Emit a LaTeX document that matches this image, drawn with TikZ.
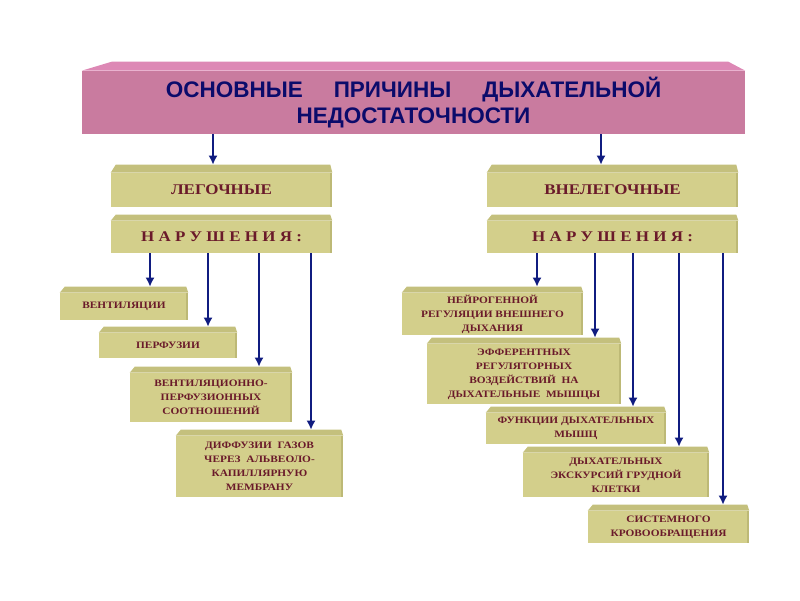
\documentclass[tikz,border=0pt]{standalone}
\usepackage{fontspec}
\usepackage{xcolor}
\usepackage{tikz}
\usetikzlibrary{shapes,arrows.meta,positioning}
\setmainfont{Liberation Serif}
\newfontfamily\headfont{Liberation Sans}
\newfontfamily\slabfont[FakeStretch=1.15]{Liberation Serif}
\definecolor{pinkface}{HTML}{C97B9F}
\definecolor{pinktop}{HTML}{DD88B5}
\definecolor{oliveface}{HTML}{D3CF8B}
\definecolor{olivetop}{HTML}{C4C07D}
\definecolor{oliveedge}{HTML}{BDB976}
\definecolor{navytext}{HTML}{0B0B6B}
\definecolor{maroontext}{HTML}{6A1A2A}
\definecolor{arrowblue}{HTML}{101C80}

\begin{document}
\begin{tikzpicture}[
    x=0.025cm, y=-0.025cm,
    titlebox/.style={rectangle, fill=pinkface, inner sep=0pt, align=center, text=navytext, font=\headfont\bfseries\fontsize{16}{18.5}\selectfont},
    headbox/.style={rectangle, fill=oliveface, inner sep=0pt, align=center, text=maroontext, font=\slabfont\bfseries\fontsize{10.5}{12}\selectfont},
    slabbox/.style={rectangle, fill=oliveface, inner sep=0pt, align=center, text=maroontext, font=\slabfont\bfseries\fontsize{7}{9.9}\selectfont},
    arr/.style={draw=arrowblue, line width=1.9pt, -{Latex[length=6.5pt,width=6.5pt]}}
]
\useasboundingbox (0,0) rectangle (800,600);

\node (title) [titlebox, minimum width=16.575cm, minimum height=1.575cm] at (413.5,102.5) {ОСНОВНЫЕ\hspace{1.1em} ПРИЧИНЫ\hspace{1.1em} ДЫХАТЕЛЬНОЙ\\НЕДОСТАТОЧНОСТИ};

\node (lung) [headbox, minimum width=5.525cm, minimum height=0.85cm] at (221.5,190) {ЛЕГОЧНЫЕ};
\node (lnar) [headbox, minimum width=5.525cm, minimum height=0.8cm] at (221.5,237) {Н А Р У Ш Е Н И Я :};
\node (extra) [headbox, minimum width=6.275cm, minimum height=0.85cm] at (612.5,190) {ВНЕЛЕГОЧНЫЕ};
\node (enar) [headbox, minimum width=6.275cm, minimum height=0.8cm] at (612.5,237) {Н А Р У Ш Е Н И Я :};

\node (vent) [slabbox, minimum width=3.2cm, minimum height=0.675cm] at (124,306.5) {ВЕНТИЛЯЦИИ};
\node (perf) [slabbox, minimum width=3.45cm, minimum height=0.625cm] at (168,345.5) {ПЕРФУЗИИ};
\node (vperf) [slabbox, minimum width=4.05cm, minimum height=1.225cm] at (211,397.5) {ВЕНТИЛЯЦИОННО-\\ПЕРФУЗИОННЫХ\\СООТНОШЕНИЙ};
\node (diff) [slabbox, minimum width=4.175cm, minimum height=1.525cm] at (259.5,466.5) {ДИФФУЗИИ\ \ ГАЗОВ\\ЧЕРЕЗ\ \ АЛЬВЕОЛО-\\КАПИЛЛЯРНУЮ\\МЕМБРАНУ};

\node (neuro) [slabbox, minimum width=4.525cm, minimum height=1.05cm] at (492.5,314) {НЕЙРОГЕННОЙ\\РЕГУЛЯЦИИ ВНЕШНЕГО\\ДЫХАНИЯ};
\node (eff) [slabbox, minimum width=4.85cm, minimum height=1.5cm] at (524,374) {ЭФФЕРЕНТНЫХ\\РЕГУЛЯТОРНЫХ\\ВОЗДЕЙСТВИЙ\ \ НА\\ДЫХАТЕЛЬНЫЕ\ \ МЫШЦЫ};
\node (func) [slabbox, minimum width=4.5cm, minimum height=0.775cm] at (576,428.5) {ФУНКЦИИ ДЫХАТЕЛЬНЫХ\\МЫШЦ};
\node (exc) [slabbox, minimum width=4.65cm, minimum height=1.1cm] at (616,475) {ДЫХАТЕЛЬНЫХ\\ЭКСКУРСИЙ ГРУДНОЙ\\КЛЕТКИ};
\node (sys) [slabbox, minimum width=4.025cm, minimum height=0.8cm] at (668.5,527) {СИСТЕМНОГО\\КРОВООБРАЩЕНИЯ};

\fill[pinktop] (title.north west) -- ([shift={(30,-9)}]title.north west) -- ([shift={(-17,-9)}]title.north east) -- (title.north east) -- cycle;
\foreach \n/\b in {lung/8, lnar/6, extra/8, enar/6, vent/6, perf/6, vperf/6, diff/6, neuro/6, eff/6, func/6, exc/6, sys/6}
{
  \fill[olivetop] (\n.north west) -- ([shift={(5,-\b)}]\n.north west) -- ([shift={(-2,-\b)}]\n.north east) -- (\n.north east) -- cycle;
  \fill[oliveedge] ([shift={(-2,0)}]\n.north east) rectangle (\n.south east);
}

\draw[arr] (title.south -| 213,0) -- ([shift={(0,-8)}]lung.north -| 213,0);
\draw[arr] (title.south -| 601,0) -- ([shift={(0,-8)}]extra.north -| 601,0);

\draw[arr] (lnar.south -| 150,0) -- ([shift={(0,-6)}]vent.north -| 150,0);
\draw[arr] (lnar.south -| 208,0) -- ([shift={(0,-6)}]perf.north -| 208,0);
\draw[arr] (lnar.south -| 259,0) -- ([shift={(0,-6)}]vperf.north -| 259,0);
\draw[arr] (lnar.south -| 311,0) -- ([shift={(0,-6)}]diff.north -| 311,0);

\draw[arr] (enar.south -| 537,0) -- ([shift={(0,-6)}]neuro.north -| 537,0);
\draw[arr] (enar.south -| 595,0) -- ([shift={(0,-6)}]eff.north -| 595,0);
\draw[arr] (enar.south -| 633,0) -- ([shift={(0,-6)}]func.north -| 633,0);
\draw[arr] (enar.south -| 679,0) -- ([shift={(0,-6)}]exc.north -| 679,0);
\draw[arr] (enar.south -| 723,0) -- ([shift={(0,-6)}]sys.north -| 723,0);
\end{tikzpicture}
\end{document}
